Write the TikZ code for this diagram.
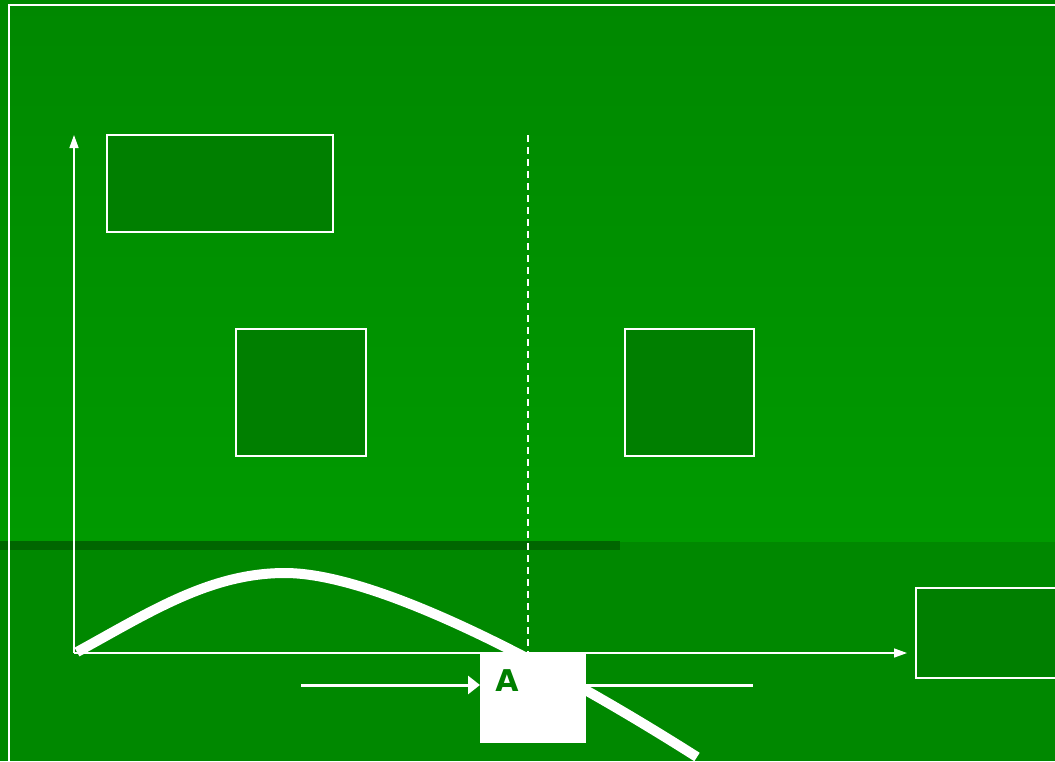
\documentclass[tikz,border=0pt]{standalone}
\usepackage{fontspec}
\setsansfont{DejaVu Sans}
\usetikzlibrary{arrows.meta}
\definecolor{gtop}{HTML}{008800}
\definecolor{gmid}{HTML}{009A00}
\definecolor{gbot}{HTML}{008800}
\definecolor{gband}{HTML}{006600}
\definecolor{gbox}{HTML}{007F00}
\tikzset{
  panel/.style={draw=white, line width=1.6pt, fill=gbox},
  axis/.style={draw=white, line width=1.4pt, -{Triangle[length=13pt,width=9pt]}},
  curve/.style={draw=white, line width=10pt},
}
\begin{document}
\begin{tikzpicture}[x=1pt,y=-1pt]
\useasboundingbox (0,0) rectangle (1055,761);
\shade[top color=gtop, bottom color=gmid] (0,0) rectangle (1055,542);
\fill[gbot] (0,542) rectangle (1055,761);
\fill[gband] (0,541) rectangle (620,550);
\draw[white, line width=1.6pt] (9,761) -- (9,5) -- (1060,5);
% panels
\path[panel] (107,135) rectangle (333,232);
\path[panel] (236,329) rectangle (366,456);
\path[panel] (625,329) rectangle (754,456);
\path[panel] (916,588) rectangle (1062,678);
\node[inner sep=0pt] (b1) at (220,183) {};
\node[inner sep=0pt] (b2) at (301,392) {};
\node[inner sep=0pt] (b3) at (689,392) {};
\node[inner sep=0pt] (b4) at (985,633) {};
% dashed line
\coordinate (dtop) at (528,135);
\coordinate (dbot) at (528,652);
\draw[white, line width=1.4pt, dash pattern=on 7pt off 5pt] (dtop) -- (dbot);
% axes
\coordinate (o) at (74,653);
\coordinate (xe) at (907,653);
\coordinate (ye) at (74,135);
\draw[axis] (o) -- (xe);
\draw[axis] (o) -- (ye);
% curve
\draw[curve] (77,652) .. controls (150,612) and (210,573) .. (285,573)
  .. controls (380,573) and (560,670) .. (697,757);
% A box
\node[fill=white, minimum width=106pt, minimum height=91pt, inner sep=0pt, anchor=north west] (A) at (480,652) {};
\node[font=\sffamily\bfseries\fontsize{30}{34}\selectfont, text=gbox, inner sep=0pt] (Alabel) at (507,681) {A};
\coordinate (ain) at (301,685);
\coordinate (aout) at (753,685);
\draw[white, line width=3pt, -{Triangle[length=12pt,width=18pt]}] (ain) -- (A.west |- ain);
\draw[white, line width=3pt] (A.east |- aout) -- (aout);
\end{tikzpicture}
\end{document}
